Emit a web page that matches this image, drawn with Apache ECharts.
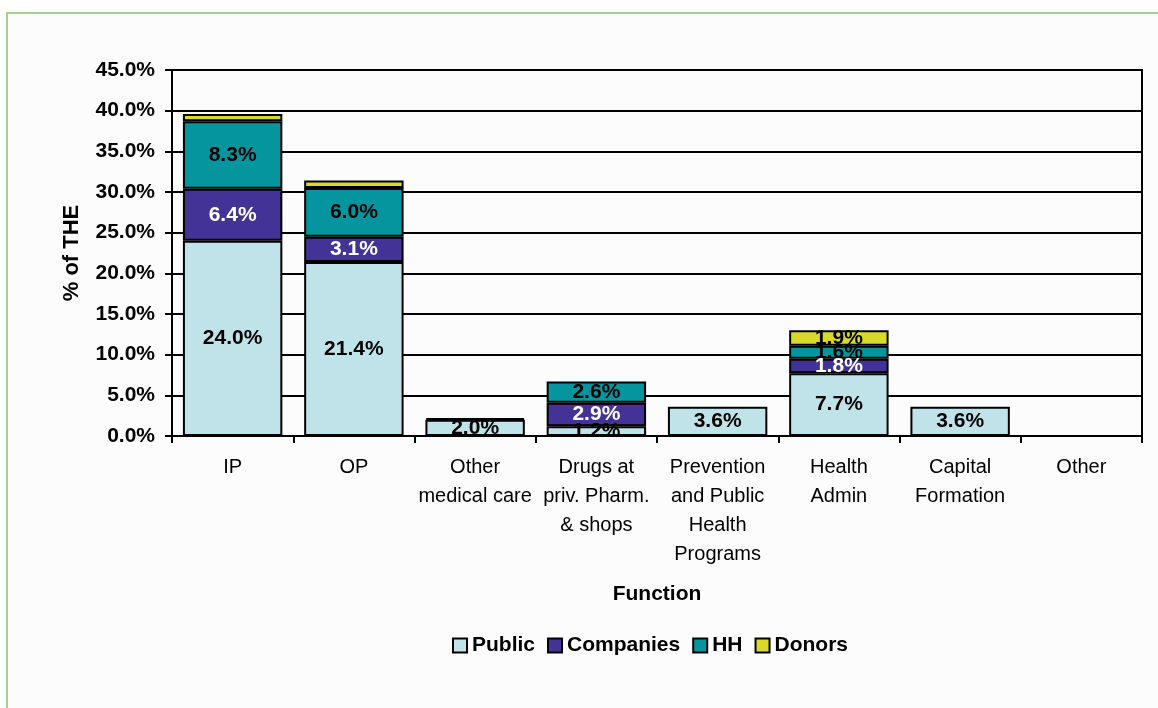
<!DOCTYPE html>
<html>
<head>
<meta charset="utf-8">
<script src="https://cdn.jsdelivr.net/npm/echarts@6/dist/echarts.min.js"></script>
<style>
    html, body { margin: 0; padding: 0; background: #ffffff; }
    #frame { position: absolute; left: 6px; top: 12px; width: 1152px; height: 696px;
             border-left: 2px solid #a9d18e; border-top: 2px solid #a9d18e; background: #fcfcfc; }
    #chart { position: absolute; left: 0; top: 0; width: 1158px; height: 708px; }
</style>
</head>
<body>
<div id="frame"></div>
<div id="chart"></div>
<script>
    // categories on the x axis
    var categories = ['IP', 'OP', 'Other\nmedical care', 'Drugs at\npriv. Pharm.\n& shops',
        'Prevention\nand Public\nHealth\nPrograms', 'Health\nAdmin', 'Capital\nFormation', 'Other'];
    // % of THE by source
    var publicVals    = [24.0, 21.4, 2.0, 1.2, 3.6, 7.7, 3.6, 0];
    var companiesVals = [6.4, 3.1, 0, 2.9, 0, 1.8, 0, 0];
    var hhVals        = [8.3, 6.0, 0.2, 2.6, 0, 1.6, 0, 0];
    var donorsVals    = [0.9, 0.9, 0, 0, 0, 1.9, 0, 0];
    var yTicks = [0, 5, 10, 15, 20, 25, 30, 35, 40, 45];

    var font = "'Liberation Sans', Arial, sans-serif";

    function makeSeries(name, vals, color, labelColor) {
        return {
            name: name,
            type: 'bar',
            stack: 'total',
            barCategoryGap: '18%',
            data: vals.map(function (v) { return v === 0 ? '-' : v; }),
            itemStyle: { color: color, borderColor: '#000', borderWidth: 2 },
            label: {
                show: true,
                position: 'inside',
                color: labelColor,
                fontFamily: font,
                fontWeight: 'bold',
                fontSize: 21,
                formatter: function (p) { return p.value >= 1 ? p.value.toFixed(1) + '%' : ''; }
            }
        };
    }

    var chart = echarts.init(document.getElementById('chart'));
    chart.setOption({
        backgroundColor: 'transparent',
        animation: false,
        textStyle: { fontFamily: font },
        grid: {
            left: 172, right: 16, top: 70, bottom: 272,
            show: true, borderColor: '#000', borderWidth: 2, backgroundColor: 'transparent'
        },
        legend: {
            top: 630,
            left: 447,
            icon: 'rect',
            itemWidth: 14,
            itemHeight: 14,
            itemGap: 12,
            itemStyle: { borderColor: '#000', borderWidth: 2 },
            textStyle: { fontFamily: font, fontWeight: 'bold', fontSize: 21, color: '#000' },
            data: ['Public', 'Companies', 'HH', 'Donors']
        },
        xAxis: {
            type: 'category',
            data: categories,
            name: 'Function',
            nameLocation: 'middle',
            nameGap: 148,
            nameTextStyle: { fontFamily: font, fontWeight: 'bold', fontSize: 21, color: '#000' },
            axisLine: { lineStyle: { color: '#000', width: 2 } },
            axisTick: { show: true, length: 7, lineStyle: { color: '#000', width: 2 } },
            axisLabel: {
                interval: 0, margin: 17, color: '#000', fontFamily: font,
                fontSize: 20, lineHeight: 29
            }
        },
        yAxis: {
            type: 'value',
            min: yTicks[0],
            max: yTicks[yTicks.length - 1],
            interval: 5,
            name: '% of THE',
            nameLocation: 'middle',
            nameGap: 89,
            nameTextStyle: { fontFamily: font, fontWeight: 'bold', fontSize: 22, color: '#000' },
            axisLine: { show: true, lineStyle: { color: '#000', width: 2 } },
            axisTick: { show: true, length: 7, lineStyle: { color: '#000', width: 2 } },
            splitLine: { lineStyle: { color: '#000', width: 2 } },
            axisLabel: {
                margin: 17, color: '#000', fontFamily: font, fontWeight: 'bold', fontSize: 21,
                formatter: function (v) { return v.toFixed(1) + '%'; }
            }
        },
        series: [
            makeSeries('Public', publicVals, '#c0e3e9', '#000'),
            makeSeries('Companies', companiesVals, '#433397', '#fff'),
            makeSeries('HH', hhVals, '#05959e', '#000'),
            makeSeries('Donors', donorsVals, '#d9d927', '#000')
        ]
    });
</script>
</body>
</html>
